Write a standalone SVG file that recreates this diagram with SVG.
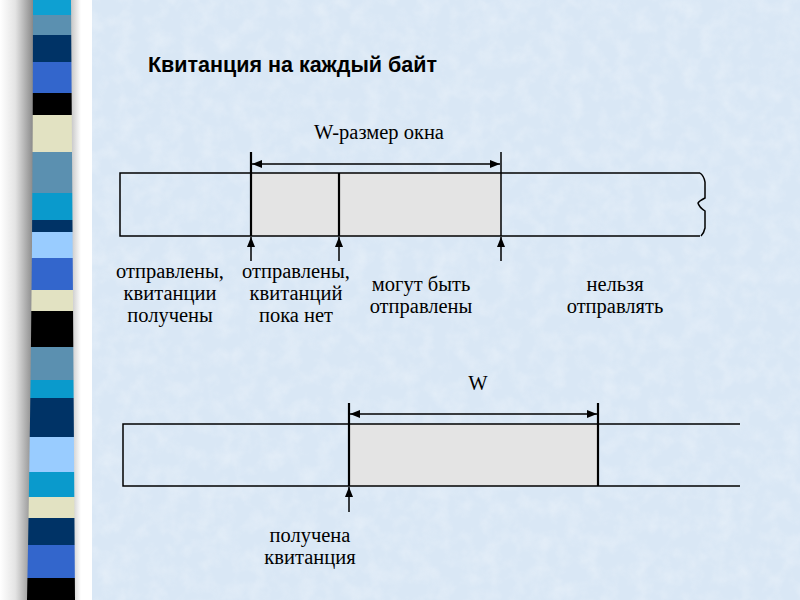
<svg xmlns="http://www.w3.org/2000/svg" width="800" height="600" viewBox="0 0 800 600">
<style>
.ln{stroke:#000;stroke-width:1.5;fill:none}
.thick{stroke:#000;stroke-width:2.2;fill:none}
.gray{fill:#e4e4e4;stroke:none}
.lbl{font-family:"Liberation Serif","DejaVu Serif","Times New Roman",serif;font-size:20.5px;fill:#000;text-anchor:middle}
.title{font-family:"Liberation Sans",Arial,sans-serif;font-size:21.5px;font-weight:bold;fill:#000}
</style>
<defs>
<linearGradient id="shadeL" x1="0" y1="0" x2="1" y2="0">
<stop offset="0" stop-color="#ffffff"/>
<stop offset="0.4" stop-color="#e4e4e4"/>
<stop offset="1" stop-color="#707070"/>
</linearGradient>
<linearGradient id="shadeR" x1="0" y1="0" x2="1" y2="0">
<stop offset="0" stop-color="#c0c0c0"/>
<stop offset="0.5" stop-color="#ffffff"/>
<stop offset="1" stop-color="#ffffff"/>
</linearGradient>
<filter id="tex" x="0" y="0" width="100%" height="100%">
<feTurbulence type="fractalNoise" baseFrequency="0.06" numOctaves="3" seed="4"/>
<feColorMatrix type="matrix" values="0 0 0 0 1  0 0 0 0 1  0 0 0 0 1  0 0 0 0.9 -0.35"/>
</filter>
<clipPath id="stripClip">
<path d="M33,0 L71,0 Q73,300 75,600 L27,600 Q33,300 33,0 Z"/>
</clipPath>
<marker id="ah" viewBox="0 0 10 8" refX="10" refY="4" markerWidth="10" markerHeight="8" markerUnits="userSpaceOnUse" orient="auto">
<path d="M0,0 L10,4 L0,8 Z" fill="#000"/>
</marker>
</defs>

<!-- background -->
<rect x="0" y="0" width="800" height="600" fill="#d9e7f5"/>
<rect x="92" y="0" width="708" height="600" fill="#fff" filter="url(#tex)" opacity="0.55"/>
<rect x="0" y="0" width="38" height="600" fill="url(#shadeL)"/>
<rect x="70" y="0" width="22" height="600" fill="url(#shadeR)"/>

<!-- decorative strip -->
<g id="strip" clip-path="url(#stripClip)">
<rect x="20" y="0" width="60" height="15" fill="#0ea0d2"/>
<rect x="20" y="15" width="60" height="20" fill="#5b90b0"/>
<rect x="20" y="35" width="60" height="27" fill="#003366"/>
<rect x="20" y="62" width="60" height="31" fill="#3366cc"/>
<rect x="20" y="93" width="60" height="22" fill="#000000"/>
<rect x="20" y="115" width="60" height="37" fill="#e2e2c2"/>
<rect x="20" y="152" width="60" height="41" fill="#5b90b0"/>
<rect x="20" y="193" width="60" height="27" fill="#0a9acc"/>
<rect x="20" y="220" width="60" height="12" fill="#003366"/>
<rect x="20" y="232" width="60" height="26" fill="#99ccff"/>
<rect x="20" y="258" width="60" height="32" fill="#3366cc"/>
<rect x="20" y="290" width="60" height="21" fill="#e2e2c2"/>
<rect x="20" y="311" width="60" height="36" fill="#000000"/>
<rect x="20" y="347" width="60" height="33" fill="#5b90b0"/>
<rect x="20" y="380" width="60" height="18" fill="#0a9acc"/>
<rect x="20" y="398" width="60" height="39" fill="#003366"/>
<rect x="20" y="437" width="60" height="35" fill="#99ccff"/>
<rect x="20" y="472" width="60" height="25" fill="#0a9acc"/>
<rect x="20" y="497" width="60" height="21" fill="#e2e2c2"/>
<rect x="20" y="518" width="60" height="27" fill="#003366"/>
<rect x="20" y="545" width="60" height="33" fill="#3366cc"/>
<rect x="20" y="578" width="60" height="22" fill="#000000"/>
</g>

<g id="title"><text class="title" x="148" y="72">Квитанция на каждый байт</text></g>

<!-- top window -->
<g id="bar1">
<rect class="gray" x="251" y="173" width="250" height="63"/>
<path class="ln" d="M700,173 L120,173 L120,236 L700,236"/>
<path class="ln" d="M700,173 Q704,176 705,182 L705,198 Q699,201 698,203 Q699,207 705,211 L705,228 Q704,233 701,236"/>
<line class="thick" x1="251" y1="152" x2="251" y2="236"/>
<line class="thick" x1="339" y1="173" x2="339" y2="236"/>
<line class="ln" x1="501" y1="152" x2="501" y2="236"/>
</g>
<g id="label-w1"><text class="lbl" x="379" y="139">W-размер окна</text></g>
<g id="label-acked"><text class="lbl" x="170" y="278">отправлены,</text><text class="lbl" x="170" y="300">квитанции</text><text class="lbl" x="170" y="322">получены</text></g>
<g id="label-sent"><text class="lbl" x="296" y="278">отправлены,</text><text class="lbl" x="296" y="300">квитанций</text><text class="lbl" x="296" y="322">пока нет</text></g>
<g id="label-can"><text class="lbl" x="421" y="291">могут быть</text><text class="lbl" x="421" y="313">отправлены</text></g>
<g id="label-cannot"><text class="lbl" x="615" y="291">нельзя</text><text class="lbl" x="615" y="313">отправлять</text></g>

<!-- bottom window -->
<g id="bar2">
<rect class="gray" x="349" y="424" width="249" height="62"/>
<path class="ln" d="M740,424 L123,424 L123,486 L740,486"/>
<line class="thick" x1="349" y1="403" x2="349" y2="486"/>
<line class="thick" x1="598" y1="403" x2="598" y2="486"/>
</g>
<g id="label-w2"><text class="lbl" x="478" y="390">W</text></g>
<g id="label-recv"><text class="lbl" x="310" y="542">получена</text><text class="lbl" x="310" y="564">квитанция</text></g>

<g id="connectors">
<line class="ln" x1="376" y1="164" x2="252" y2="164" marker-end="url(#ah)"/>
<line class="ln" x1="376" y1="164" x2="500" y2="164" marker-end="url(#ah)"/>
<line class="ln" x1="251" y1="261" x2="251" y2="237" marker-end="url(#ah)"/>
<line class="ln" x1="339" y1="261" x2="339" y2="237" marker-end="url(#ah)"/>
<line class="ln" x1="501" y1="261" x2="501" y2="237" marker-end="url(#ah)"/>
<line class="ln" x1="473" y1="414" x2="350" y2="414" marker-end="url(#ah)"/>
<line class="ln" x1="473" y1="414" x2="597" y2="414" marker-end="url(#ah)"/>
<line class="ln" x1="349" y1="512" x2="349" y2="487" marker-end="url(#ah)"/>
</g>
</svg>
